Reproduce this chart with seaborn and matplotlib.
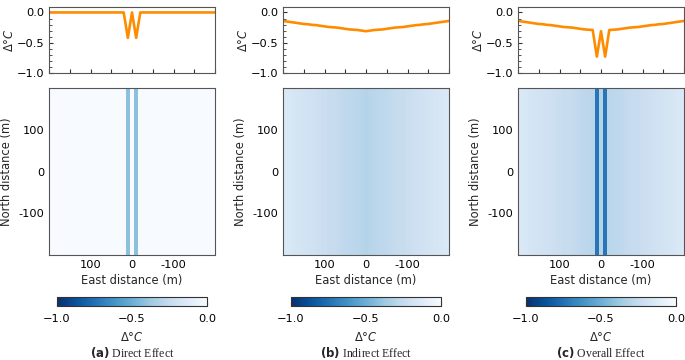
import numpy as np
import matplotlib
matplotlib.use("Agg")
import matplotlib.pyplot as plt
import seaborn as sns
from matplotlib.ticker import MultipleLocator, FixedLocator, NullFormatter

# East positions (m) of the cross-section profiles
east = [-200, -190, -180, -170, -160, -150, -140, -130, -120, -110,
        -100, -90, -80, -70, -60, -50, -40, -30, -20, -10,
        0, 10, 20, 30, 40, 50, 60, 70, 80, 90,
        100, 110, 120, 130, 140, 150, 160, 170, 180, 190, 200]
north = [-200, 0, 200]

# temperature change (deg C) along east for each effect
direct = [0.0, 0.0, 0.0, 0.0, 0.0, 0.0, 0.0, 0.0, 0.0, 0.0,
          0.0, 0.0, 0.0, 0.0, 0.0, 0.0, 0.0, 0.0, 0.0, -0.42,
          0.0, -0.42, 0.0, 0.0, 0.0, 0.0, 0.0, 0.0, 0.0, 0.0,
          0.0, 0.0, 0.0, 0.0, 0.0, 0.0, 0.0, 0.0, 0.0, 0.0, 0.0]
indirect = [-0.14, -0.15, -0.16, -0.17, -0.18, -0.19, -0.195, -0.205, -0.21, -0.22,
            -0.23, -0.24, -0.245, -0.25, -0.26, -0.27, -0.28, -0.285, -0.29, -0.30,
            -0.31, -0.30, -0.29, -0.285, -0.28, -0.27, -0.26, -0.25, -0.245, -0.24,
            -0.23, -0.22, -0.21, -0.205, -0.195, -0.19, -0.18, -0.17, -0.16, -0.15, -0.14]
overall = [-0.14, -0.15, -0.16, -0.17, -0.18, -0.19, -0.195, -0.205, -0.21, -0.22,
           -0.23, -0.24, -0.245, -0.25, -0.26, -0.27, -0.28, -0.285, -0.29, -0.73,
           -0.31, -0.73, -0.29, -0.285, -0.28, -0.27, -0.26, -0.25, -0.245, -0.24,
           -0.23, -0.22, -0.21, -0.205, -0.195, -0.19, -0.18, -0.17, -0.16, -0.15, -0.14]

profiles = [direct, indirect, overall]
panel_tags = ["(a)", "(b)", "(c)"]
panel_names = ["Direct Effect", "Indirect Effect", "Overall Effect"]
dist_ticks = [100, 0, -100]
dist_labels = ["100", "0", "-100"]

sns.set_style("ticks")
plt.rcParams["font.family"] = ["DejaVu Sans"]
plt.rcParams["font.size"] = 8.3
plt.rcParams["xtick.labelsize"] = 8.2
plt.rcParams["ytick.labelsize"] = 8.2
plt.rcParams["axes.edgecolor"] = "#555555"
plt.rcParams["xtick.direction"] = "in"
plt.rcParams["ytick.direction"] = "in"
plt.rcParams["xtick.color"] = "#333333"
plt.rcParams["ytick.color"] = "#333333"
plt.rcParams["xtick.labelcolor"] = "black"
plt.rcParams["ytick.labelcolor"] = "black"

W, H = 685, 360
fig = plt.figure(figsize=(6.85, 3.6), dpi=100)

col_left = [49, 283, 518]
ax_w = 166
dlabel = r"$\Delta\degree C$"

for i in range(3):
    x0 = col_left[i]
    # profile axes
    ax_top = fig.add_axes([x0 / W, 1 - 73 / H, ax_w / W, 66 / H])
    sns.lineplot(x=east, y=profiles[i], ax=ax_top, color="darkorange", linewidth=1.9)
    ax_top.set_xlim(200, -200)
    ax_top.set_ylim(-1.0, 0.09)
    ax_top.xaxis.set_major_locator(MultipleLocator(50))
    ax_top.xaxis.set_major_formatter(NullFormatter())
    ax_top.yaxis.set_major_locator(FixedLocator([-1.0, -0.5, 0.0]))
    ax_top.yaxis.set_minor_locator(MultipleLocator(0.1))
    ax_top.tick_params(which="major", length=3, width=0.8)
    ax_top.tick_params(which="minor", length=1.8, width=0.6)
    ax_top.set_ylabel(dlabel)
    ax_top.yaxis.set_label_coords(-0.2, 0.5)

    # map axes
    ax_map = fig.add_axes([x0 / W, 1 - 255 / H, ax_w / W, 167 / H])
    grid = np.tile(np.array(profiles[i]), (len(north), 1))
    mesh = ax_map.pcolormesh(east, north, grid, cmap="Blues_r", vmin=-1.0, vmax=0.0,
                             shading="nearest")
    ax_map.set_xlim(200, -200)
    ax_map.set_ylim(-200, 200)
    ax_map.set_xticks(dist_ticks)
    ax_map.set_xticklabels(dist_labels)
    ax_map.set_yticks(dist_ticks)
    ax_map.set_yticklabels(dist_labels)
    ax_map.xaxis.set_minor_locator(FixedLocator([150, 50, -50, -150]))
    ax_map.yaxis.set_minor_locator(FixedLocator([150, 50, -50, -150]))
    ax_map.tick_params(which="both", length=3, width=0.8)
    ax_map.set_xlabel("East distance (m)", labelpad=3)
    ax_map.set_ylabel("North distance (m)")
    ax_map.yaxis.set_label_coords(-0.215, 0.5)

    # colorbar
    cax = fig.add_axes([(x0 + 8) / W, 1 - 306 / H, 150 / W, 9 / H])
    cb = fig.colorbar(mesh, cax=cax, orientation="horizontal")
    cb.set_ticks([-1.0, -0.5, 0.0])
    cb.ax.xaxis.set_minor_locator(MultipleLocator(0.1))
    cb.ax.tick_params(which="major", length=3, width=0.8, direction="in", pad=5.5)
    cb.ax.tick_params(which="minor", length=1.8, width=0.6, direction="in")
    cb.outline.set_edgecolor("#333333")
    cb.outline.set_linewidth(0.8)
    cb.set_label(dlabel, labelpad=5)

    # caption
    fig.text((x0 + ax_w / 2) / W, 1 - 352 / H,
             r"$\mathbf{" + panel_tags[i] + r"}$ " + panel_names[i],
             ha="center", va="center", family="Liberation Serif", fontsize=8.5)

fig.savefig("out.png", dpi=100)
